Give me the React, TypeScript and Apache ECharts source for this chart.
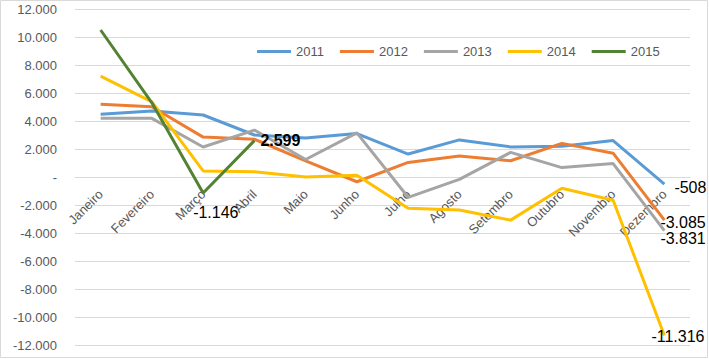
import React, { useEffect, useRef } from "react";
import * as echarts from "echarts";

const months = ["Janeiro", "Fevereiro", "Março", "Abril", "Maio", "Junho", "Julho", "Agosto", "Setembro", "Outubro", "Novembro", "Dezembro"];
const s2011 = [4480, 4710, 4430, 3000, 2780, 3100, 1640, 2650, 2150, 2200, 2600, -508];
const s2012 = [5190, 5020, 2850, 2700, 1150, -340, 1040, 1500, 1160, 2400, 1700, -3085];
const s2013 = [4190, 4190, 2140, 3350, 1250, 3150, -1450, -170, 1760, 670, 960, -3831];
const s2014 = [7200, 5360, 430, 380, 0, 120, -2240, -2360, -3080, -800, -1660, -11316];
const s2015 = [10500, 5300, -1146, 2599, null, null, null, null, null, null, null, null];

const Y_MIN = -12000;
const Y_MAX = 12000;
const GRID_TOP = 9;
const GRID_BOTTOM = 14;
const CHART_H = 359;

const fmt = (v: number) => {
  if (v === 0) return "-";
  const s = Math.abs(Math.round(v)).toString().replace(/\B(?=(\d{3})+(?!\d))/g, ".");
  return (v < 0 ? "-" : "") + s;
};

const FONT = "Liberation Sans";

function withLabels(arr: (number | null)[], labels: Record<number, any>) {
  return arr.map((v, i) => {
    if (labels[i] && v !== null) {
      return {
        value: v,
        label: {
          show: true,
          formatter: (p: any) => fmt(p.value),
          color: "#000",
          fontSize: 16,
          fontFamily: FONT,
          position: "right",
          distance: 0,
          ...labels[i],
        },
      };
    }
    return v;
  });
}

export default function App() {
  const ref = useRef<HTMLDivElement>(null);
  useEffect(() => {
    if (!ref.current) return;
    const chart = echarts.init(ref.current, undefined, { renderer: "svg" });
    const mk = (name: string, color: string, data: any[], z: number) => ({
      name,
      type: "line",
      data,
      symbol: "circle",
      symbolSize: 0,
      showSymbol: true,
      showAllSymbol: true,
      z,
      emphasis: { disabled: true },
      lineStyle: { width: 3, color },
      itemStyle: { color },
      connectNulls: false,
    });
    const plotH = CHART_H - GRID_TOP - GRID_BOTTOM;
    const zeroFromBottom = (0 - Y_MIN) / (Y_MAX - Y_MIN) * plotH;
    chart.setOption({
      animation: false,
      backgroundColor: "#fff",
      textStyle: { fontFamily: FONT },
      graphic: [
        {
          type: "rect",
          shape: { x: 0.5, y: 0.5, width: 707, height: 357 },
          style: { fill: "none", stroke: "#D9D9D9", lineWidth: 1 },
          silent: true,
        },
      ],
      grid: { left: 75, right: 19, top: GRID_TOP, bottom: GRID_BOTTOM, containLabel: false, outerBoundsMode: "none" },
      legend: {
        left: 257,
        top: 45,
        padding: 0,
        itemWidth: 34,
        itemHeight: 14,
        itemGap: 16,
        icon: "path://M0,5.5 L34,5.5 L34,8.5 L0,8.5 Z",
        textStyle: { color: "#595959", fontSize: 13, fontFamily: FONT },
        data: ["2011", "2012", "2013", "2014", "2015"],
      },
      xAxis: {
        type: "category",
        data: months,
        boundaryGap: true,
        position: "bottom",
        offset: -zeroFromBottom,
        axisLine: { onZero: false, lineStyle: { color: "#D9D9D9", width: 1 } },
        axisTick: { show: false },
        axisLabel: {
          rotate: 45,
          interval: 0,
          margin: 15,
          color: "#595959",
          fontSize: 13,
          fontFamily: FONT,
        },
      },
      yAxis: {
        type: "value",
        min: Y_MIN,
        max: Y_MAX,
        interval: 2000,
        axisLine: { show: false },
        axisTick: { show: false },
        splitLine: { lineStyle: { color: "#D9D9D9", width: 1 } },
        axisLabel: {
          margin: 18,
          color: "#595959",
          fontSize: 13,
          fontFamily: FONT,
          formatter: (v: number) => fmt(v),
        },
      },
      series: [
        mk("2011", "#5B9BD5", withLabels(s2011, { 11: { distance: 10, offset: [0, 3] } }), 2),
        mk("2012", "#ED7D31", withLabels(s2012, { 11: { distance: -4, offset: [0, 2] } }), 3),
        mk("2013", "#A5A5A5", withLabels(s2013, { 11: { distance: -4, offset: [0, 8] } }), 4),
        mk("2014", "#FFC000", withLabels(s2014, { 11: { distance: -13, offset: [0, 1] } }), 5),
        mk(
          "2015",
          "#548235",
          withLabels(s2015, {
            2: { distance: -10, offset: [0, 19] },
            3: { distance: 6, offset: [0, 0], fontWeight: "bold" },
          }),
          6
        ),
      ],
    });
    return () => chart.dispose();
  }, []);
  return (
    <div
      ref={ref}
      style={{ position: "absolute", left: 0, top: 0, width: 709, height: 359 }}
    />
  );
}
